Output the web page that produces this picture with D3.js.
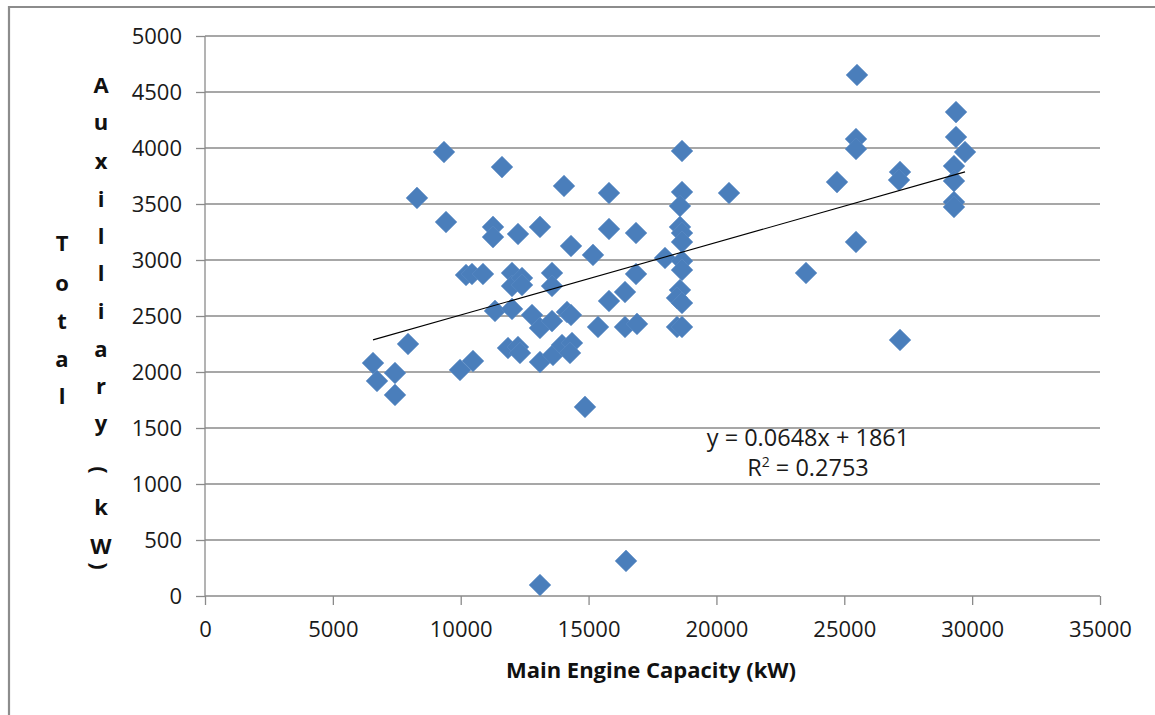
<!DOCTYPE html>
<html>
<head>
<meta charset="utf-8">
<script src="https://cdn.jsdelivr.net/npm/d3@7/dist/d3.min.js"></script>
<style>
  html, body { margin: 0; padding: 0; background: #fff; }
  svg { display: block; }
</style>
</head>
<body>
<svg id="chart" width="1155" height="715"></svg>
<script>
// ---------- data ----------
const engineCapacity = [
  6570, 6726, 7430, 7430, 7939, 8290, 9346, 9425, 9972, 10480,
  10207, 10441, 10871, 11263, 11263, 11614, 11341, 12006, 12006, 12006,
  11849, 12240, 12397, 12397, 12240, 12318, 12788, 13100, 13100, 13100,
  13100, 13570, 13570, 13570, 13609, 13961, 14039, 14156, 14313, 14313,
  14352, 14274, 14860, 15173, 15369, 15799, 15799, 15799, 16425, 16425,
  16464, 16855, 16855, 16894, 17989, 18654, 18654, 18575, 18575, 18654,
  18654, 18654, 18654, 18575, 18458, 18654, 18458, 18654, 20492, 23503,
  24715, 25497, 25458, 25458, 25458, 27179, 27140, 27179, 29369, 29369,
  29721, 29290, 29290, 29290, 29290
];
const auxPower = [
  2080, 1920, 1991, 1795, 2250, 3554, 3964, 3339, 2018, 2098,
  2866, 2875, 2875, 3295, 3205, 3830, 2545, 2884, 2768, 2563,
  2214, 3232, 2839, 2777, 2223, 2170, 2509, 3295, 2393, 98,
  2089, 2884, 2768, 2455, 2152, 2241, 3661, 2536, 2509, 3125,
  2259, 2170, 1688, 3045, 2402, 3598, 3277, 2634, 2714, 2402,
  313, 3241, 2875, 2429, 3018, 3973, 3607, 3482, 3295, 3241,
  3161, 2991, 2911, 2732, 2661, 2616, 2402, 2402, 3598, 2884,
  3696, 4652, 4080, 3991, 3161, 3786, 3714, 2286, 4321, 4098,
  3964, 3839, 3705, 3518, 3473
];
const xTicks = [0, 5000, 10000, 15000, 20000, 25000, 30000, 35000];
const yTicks = [0, 500, 1000, 1500, 2000, 2500, 3000, 3500, 4000, 4500, 5000];
const trendSlope = 0.0648;
const trendIntercept = 1861;
const equationLabel = "y = 0.0648x + 1861";
const r2Value = "0.2753";
const xTitle = "Main Engine Capacity (kW)";
const yTitleCol1 = "Total";
const yTitleCol2 = "Auxilliary (kW)";

// ---------- layout ----------
const svg = d3.select("#chart");
const mLeft = 205, mTop = 36, plotW = 895, plotH = 560;
const font = "'Open Sans', 'Liberation Sans', sans-serif";

// outer frame
svg.append("path")
  .attr("d", "M9,1000 L9,7 L1160,7")
  .attr("fill", "none").attr("stroke", "#8c8c8c").attr("stroke-width", 2.2);

const x = d3.scaleLinear().domain([0, 35000]).range([mLeft, mLeft + plotW]);
const y = d3.scaleLinear().domain([0, 5000]).range([mTop + plotH, mTop]);

// gridlines
svg.append("g").selectAll("line").data(yTicks.filter(d => d > 0)).join("line")
  .attr("x1", mLeft).attr("x2", mLeft + plotW)
  .attr("y1", d => y(d)).attr("y2", d => y(d))
  .attr("stroke", "#8a8a8a").attr("stroke-width", 1.3);

// axes
const yAxis = d3.axisLeft(y).tickValues(yTicks).tickSize(9).tickPadding(14).tickFormat(d3.format("d"));
const xAxis = d3.axisBottom(x).tickValues(xTicks).tickSize(9).tickPadding(16).tickFormat(d3.format("d"));

const gy = svg.append("g").attr("transform", `translate(${mLeft},0)`).call(yAxis);
const gx = svg.append("g").attr("transform", `translate(0,${mTop + plotH})`).call(xAxis);
[gx, gy].forEach(g => {
  g.select(".domain").attr("stroke", "#8a8a8a").attr("stroke-width", 1.3);
  g.selectAll(".tick line").attr("stroke", "#8a8a8a").attr("stroke-width", 1.3);
  g.selectAll(".tick text").attr("font-family", font).attr("font-size", 22).attr("fill", "#1a1a1a");
});
gy.select(".domain").attr("d", `M0,${mTop + plotH}V${mTop}`);
gx.select(".domain").attr("d", `M${mLeft},0H${mLeft + plotW}`);
gy.selectAll(".tick text").attr("dy", "0.36em");

// points (diamonds)
const pts = engineCapacity.map((v, i) => [v, auxPower[i]]);
const diamond = d3.symbol().type(d3.symbolSquare).size(235);
svg.append("g").selectAll("path").data(pts).join("path")
  .attr("d", diamond)
  .attr("transform", d => `translate(${x(d[0])},${y(d[1])}) rotate(45)`)
  .attr("fill", "#4a7ebb")
  .attr("stroke", "#5a8ac4").attr("stroke-width", 0.6);

// trend line
const xMin = d3.min(engineCapacity), xMax = d3.max(engineCapacity);
svg.append("line")
  .attr("x1", x(xMin)).attr("y1", y(trendSlope * xMin + trendIntercept))
  .attr("x2", x(xMax)).attr("y2", y(trendSlope * xMax + trendIntercept))
  .attr("stroke", "#000").attr("stroke-width", 1.1);

// equation
svg.append("text")
  .attr("x", 808).attr("y", 446)
  .attr("text-anchor", "middle").attr("font-family", font).attr("font-size", 23.5).attr("fill", "#1a1a1a")
  .text(equationLabel);
const r2 = svg.append("text")
  .attr("x", 808).attr("y", 476)
  .attr("text-anchor", "middle").attr("font-family", font).attr("font-size", 23.5).attr("fill", "#1a1a1a");
r2.append("tspan").text("R");
r2.append("tspan").attr("font-size", 14).attr("dy", -9).text("2");
r2.append("tspan").attr("dy", 9).text(" = " + r2Value);

// x title
svg.append("text")
  .attr("x", 651).attr("y", 678)
  .attr("text-anchor", "middle").attr("font-family", font).attr("font-weight", "bold")
  .attr("font-size", 22).attr("fill", "#111")
  .text(xTitle);

// y title (stacked letters)
const col1Y = [242, 282, 320, 358, 395];
const col2Y = [84, 121, 160, 198, 235, 272, 310, 348, 385, 422, null, 470, 506, 545, 566];
const yt = svg.append("g").attr("font-family", font).attr("font-weight", "bold")
  .attr("font-size", 22).attr("fill", "#111").attr("text-anchor", "middle");
yTitleCol1.split("").forEach((c, i) => {
  yt.append("text").attr("x", 62).attr("y", col1Y[i]).attr("dominant-baseline", "central").text(c);
});
yTitleCol2.split("").forEach((c, i) => {
  if (c === " " || col2Y[i] == null) return;
  const t = yt.append("text").attr("dominant-baseline", "central").text(c);
  if (c === "(" || c === ")") {
    t.attr("transform", `translate(101,${col2Y[i]}) rotate(90)`);
  } else {
    t.attr("x", 101).attr("y", col2Y[i]);
  }
});
</script>
</body>
</html>
